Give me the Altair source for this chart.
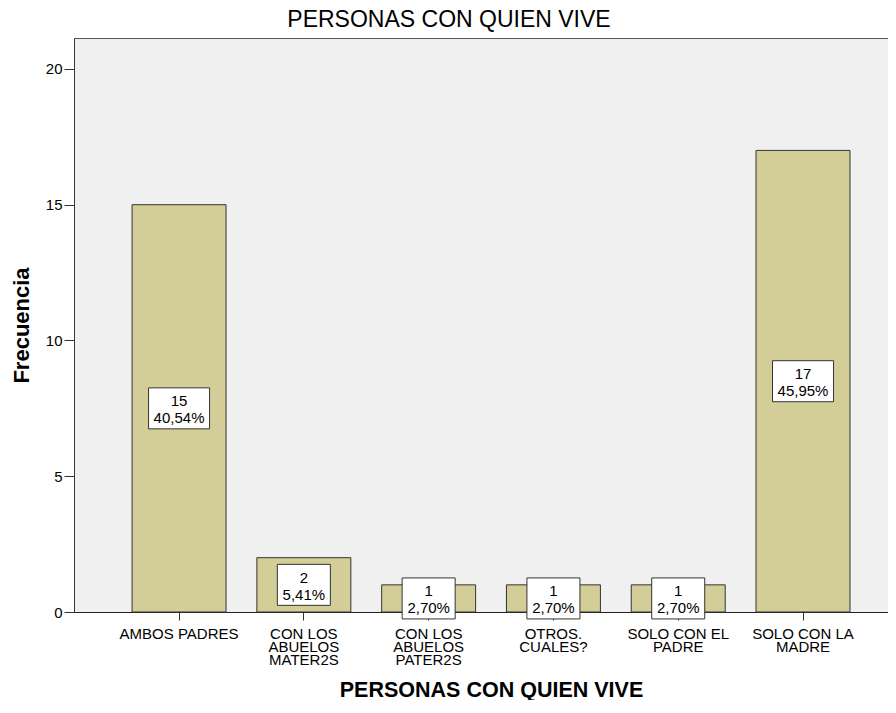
import altair as alt
import pandas as pd

# ---- data ----
categories = [
    "AMBOS PADRES",
    "CON LOS ABUELOS MATER2S",
    "CON LOS ABUELOS PATER2S",
    "OTROS. CUALES?",
    "SOLO CON EL PADRE",
    "SOLO CON LA MADRE",
]
label_lines = [
    ["AMBOS PADRES"],
    ["CON LOS", "ABUELOS", "MATER2S"],
    ["CON LOS", "ABUELOS", "PATER2S"],
    ["OTROS.", "CUALES?"],
    ["SOLO CON EL", "PADRE"],
    ["SOLO CON LA", "MADRE"],
]
counts = [15, 2, 1, 1, 1, 17]
percents = ["40,54%", "5,41%", "2,70%", "2,70%", "2,70%", "45,95%"]
y_ticks = [0, 5, 10, 15, 20]

df = pd.DataFrame({
    "cat": categories,
    "count": counts,
    "pct": percents,
})
df["label"] = df["count"].astype(str) + "\n" + df["pct"]
df["wide"] = df["pct"].str.len() > 5

# multi-line axis labels
parts = []
for c, lines in zip(categories, label_lines):
    arr = "[" + ",".join("'" + l + "'" for l in lines) + "]"
    parts.append(f"datum.value == '{c}' ? {arr} : ")
label_expr = "".join(parts) + "datum.value"

FONT = "Liberation Sans"

x_axis = alt.Axis(
    title="PERSONAS CON QUIEN VIVE",
    titleFont=FONT, titleFontSize=21.5, titleFontWeight="bold", titleColor="black",
    titleX=417, titleY=84, titleBaseline="alphabetic", titleAlign="center",
    labelExpr=label_expr, labelAngle=0,
    labelFont=FONT, labelFontSize=15, labelColor="black", labelLineHeight=13.4,
    labelPadding=6, tickSize=8, tickColor="#333333", domainColor="#222222",
    labelLimit=300,
)
y_axis = alt.Axis(
    values=y_ticks, grid=False,
    title="Frecuencia",
    titleFont=FONT, titleFontSize=22, titleFontWeight="bold", titleColor="black",
    titleX=-46, titleY=287, titleAngle=270, titleBaseline="alphabetic", titleAlign="center",
    labelFont=FONT, labelFontSize=15, labelColor="black", labelPadding=2,
    tickSize=10, tickColor="#333333", domainColor="#333333",
)

x_scale = alt.Scale(paddingInner=0.247, paddingOuter=0.417, align=0.558)
y_scale = alt.Scale(domain=[0, 21.14], nice=False, zero=True)

x_enc = alt.X("cat:N", sort=categories, scale=x_scale, axis=x_axis)

bars = alt.Chart(df).mark_bar(
    fill="#D3CE98", stroke="#333333", strokeWidth=1
).encode(
    x=x_enc,
    y=alt.Y("count:Q", scale=y_scale, axis=y_axis, title="Frecuencia"),
)

base_lbl = alt.Chart(df).transform_calculate(half="datum.count / 2")
y_half = alt.Y("half:Q", scale=y_scale, axis=y_axis, title="Frecuencia")

box_wide = base_lbl.transform_filter("datum.wide").mark_point(
    shape="M-1.488,-1H1.488V1H-1.488Z", size=1681, filled=True,
    fill="white", stroke="#333333", strokeWidth=1, opacity=1,
).encode(x=x_enc, y=y_half)

box_narrow = base_lbl.transform_filter("!datum.wide").mark_point(
    shape="M-1.293,-1H1.293V1H-1.293Z", size=1681, filled=True,
    fill="white", stroke="#333333", strokeWidth=1, opacity=1,
).encode(x=x_enc, y=y_half)

texts = base_lbl.mark_text(
    font=FONT, fontSize=15, lineHeight=17, color="black",
    align="center", baseline="middle", lineBreak="\n", dy=-7,
).encode(x=x_enc, y=y_half, text="label:N")

chart = alt.layer(bars, box_wide, box_narrow, texts).properties(
    width=822,
    height=574,
    autosize="none",
    padding={"left": 66, "top": 30, "right": -8, "bottom": 88},
    background="white",
    title=alt.Title(
        "PERSONAS CON QUIEN VIVE",
        font=FONT, fontSize=23, fontWeight="normal", color="black",
        offset=6, dx=-36, anchor="middle",
    ),
).configure_view(
    fill="#F0F0F0", stroke="#555555", strokeWidth=1
)

chart.save("out.html", embed_options={"renderer": "svg", "actions": False})
